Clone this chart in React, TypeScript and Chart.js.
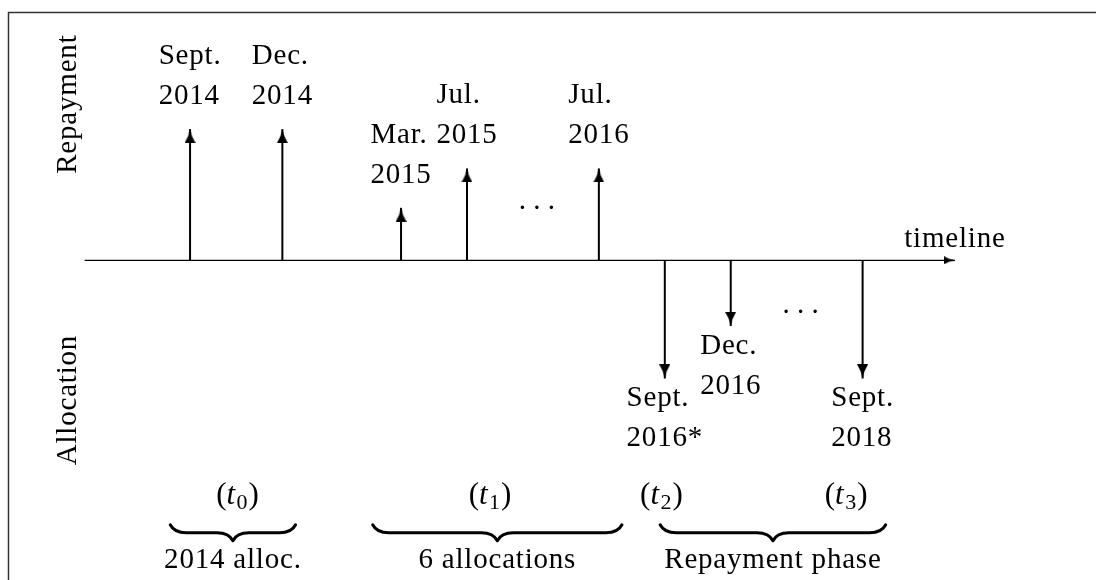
import React, { useEffect, useRef } from "react";
import { Chart, registerables } from "chart.js";

Chart.register(...registerables);

// ---- data (TikZ-like units along the timeline) ----
const upX = [1.6, 3.0, 4.8, 5.8, 7.8];
const upHeight = [2.0, 2.0, 0.8, 1.4, 1.4];
const upLabels = [
  ["Sept.", "2014"],
  ["Dec.", "2014"],
  ["Mar.", "2015"],
  ["Jul.", "2015"],
  ["Jul.", "2016"],
];

const downX = [8.8, 9.8, 11.8];
const downDepth = [-1.8, -1.0, -1.8];
const downLabels = [
  ["Sept.", "2016*"],
  ["Dec.", "2016"],
  ["Sept.", "2018"],
];

const axisRange = [0, 13.2];
const axisTitle = "timeline";

const sideTitles = ["Repayment", "Allocation"];
const sideTitleY = [2.38, -2.13];

const ellipsisX = [6.86, 10.86];
const ellipsisY = [0.81, -0.77];

const periodIndex = ["0", "1", "2", "3"];
const periodX = [2.32, 6.15, 8.75, 11.55];
const periodY = -3.71;

const phaseStart = [1.3, 4.37, 8.73];
const phaseEnd = [3.2, 8.15, 12.15];
const phaseTitles = ["2014 alloc.", "6 allocations", "Repayment phase"];
const braceY = -4.03;

// view window
const X_MIN = -1.2368;
const X_MAX = 15.2941;
const Y_MIN = -4.8265;
const Y_MAX = 3.9216;

const FONT_FAMILY = "'Liberation Serif'";
const FS = 29;
const LINE = 40;

function makeHead(w: number, len: number): HTMLCanvasElement {
  const c = document.createElement("canvas");
  c.width = w;
  c.height = len * 2;
  const g = c.getContext("2d")!;
  g.fillStyle = "#000";
  g.beginPath();
  g.moveTo(w / 2, len);
  g.quadraticCurveTo(w / 2 - w * 0.12, len + len * 0.55, 0, len * 2);
  g.lineTo(w, len * 2);
  g.quadraticCurveTo(w / 2 + w * 0.12, len + len * 0.55, w / 2, len);
  g.closePath();
  g.fill();
  return c;
}

const framePlugin = {
  id: "frame",
  beforeDraw(chart: any) {
    const ctx = chart.ctx;
    ctx.save();
    ctx.fillStyle = "#fff";
    ctx.fillRect(0, 0, chart.width, chart.height);
    ctx.strokeStyle = "#333";
    ctx.lineWidth = 1.5;
    ctx.beginPath();
    ctx.moveTo(8.5, chart.height + 2);
    ctx.lineTo(8.5, 12.5);
    ctx.lineTo(chart.width + 2, 12.5);
    ctx.stroke();
    ctx.restore();
  },
};

const textPlugin = {
  id: "texts",
  afterDatasetsDraw(chart: any) {
    const ctx = chart.ctx;
    const xs = chart.scales.x;
    const ys = chart.scales.y;
    const px = (v: number) => xs.getPixelForValue(v);
    const py = (v: number) => ys.getPixelForValue(v);
    ctx.save();
    ctx.fillStyle = "#000";
    ctx.font = `${FS}px ${FONT_FAMILY}`;
    (ctx as any).letterSpacing = "0.8px";
    ctx.textBaseline = "alphabetic";

    // labels above upward arrows
    upLabels.forEach((lines, i) => {
      const cx = px(upX[i]);
      const tip = py(upHeight[i]);
      const w = Math.max(...lines.map((l) => ctx.measureText(l).width));
      ctx.textAlign = "left";
      lines.forEach((l, j) => {
        ctx.fillText(l, cx - w / 2, tip - 25 - (lines.length - 1 - j) * LINE);
      });
    });

    // labels below downward arrows
    downLabels.forEach((lines, i) => {
      const cx = px(downX[i]);
      const tip = py(downDepth[i]);
      const w = Math.max(...lines.map((l) => ctx.measureText(l).width));
      ctx.textAlign = "left";
      lines.forEach((l, j) => {
        ctx.fillText(l, cx - w / 2, tip + 28 + j * LINE);
      });
    });

    // axis title
    ctx.textAlign = "center";
    ctx.fillText(axisTitle, px(axisRange[1]), py(0) - 13);

    // side titles (rotated)
    sideTitles.forEach((t, i) => {
      ctx.save();
      ctx.translate(px(axisRange[0]) - 9, py(sideTitleY[i]));
      ctx.rotate(-Math.PI / 2);
      ctx.textAlign = "center";
      ctx.fillText(t, 0, 0);
      ctx.restore();
    });

    // ellipses
    (ctx as any).letterSpacing = "0px";
    ellipsisX.forEach((ex, i) => {
      ctx.textAlign = "center";
      ctx.fillText(". . .", px(ex), py(ellipsisY[i]) + 2);
    });

    // period labels (t_i)
    const PFS = 31;
    periodIndex.forEach((sub, i) => {
      const roman = `${PFS}px ${FONT_FAMILY}`;
      const ital = `italic ${PFS}px ${FONT_FAMILY}`;
      const small = `${Math.round(PFS * 0.7)}px ${FONT_FAMILY}`;
      const parts: [string, string, number][] = [
        ["(", roman, 0],
        ["t", ital, 0],
        [sub, small, 5],
        [")", roman, 0],
      ];
      let total = 0;
      const widths = parts.map(([s, f]) => {
        ctx.font = f;
        const w = ctx.measureText(s).width + (s === "t" ? 1.5 : 0) + (s === sub ? 1 : 0);
        total += w;
        return w;
      });
      let x0 = px(periodX[i]) - total / 2;
      const base = py(periodY);
      ctx.textAlign = "left";
      parts.forEach(([s, f, dy], k) => {
        ctx.font = f;
        ctx.fillText(s, x0, base + dy);
        x0 += widths[k];
      });
    });

    // braces and phase titles
    ctx.font = `${FS}px ${FONT_FAMILY}`;
    (ctx as any).letterSpacing = "0.8px";
    const amp = 16;
    phaseStart.forEach((s, i) => {
      const x1 = px(s);
      const x2 = px(phaseEnd[i]);
      const top = py(braceY);
      const mid = (x1 + x2) / 2;
      const a = amp;
      ctx.save();
      ctx.strokeStyle = "#000";
      ctx.lineWidth = 3;
      ctx.lineJoin = "round";
      ctx.lineCap = "round";
      ctx.beginPath();
      ctx.moveTo(x1, top);
      ctx.bezierCurveTo(x1 + 0.15 * a, top + 0.3 * a, x1 + 0.5 * a, top + 0.5 * a, x1 + a, top + 0.5 * a);
      ctx.lineTo(mid - a, top + 0.5 * a);
      ctx.bezierCurveTo(mid - 0.5 * a, top + 0.5 * a, mid - 0.15 * a, top + 0.7 * a, mid, top + a);
      ctx.bezierCurveTo(mid + 0.15 * a, top + 0.7 * a, mid + 0.5 * a, top + 0.5 * a, mid + a, top + 0.5 * a);
      ctx.lineTo(x2 - a, top + 0.5 * a);
      ctx.bezierCurveTo(x2 - 0.5 * a, top + 0.5 * a, x2 - 0.15 * a, top + 0.3 * a, x2, top);
      ctx.stroke();
      ctx.restore();
      ctx.textAlign = "center";
      ctx.fillText(phaseTitles[i], mid, top + a + 27);
    });

    ctx.restore();
  },
};

export default function App() {
  const ref = useRef<HTMLCanvasElement>(null);

  useEffect(() => {
    const canvas = ref.current;
    if (!canvas) return;
    let chart: Chart | null = null;
    let cancelled = false;

    const build = () => {
      if (cancelled) return;
      const bigHead = makeHead(11, 14);
      const axisHead = makeHead(8, 11);

      const stem = (x: number, v: number, rot: number) => ({
        data: [
          { x, y: 0 },
          { x, y: v },
        ],
        showLine: true,
        borderColor: "#000",
        backgroundColor: "#000",
        borderWidth: 2,
        borderCapStyle: "butt",
        pointRadius: [0, 1],
        pointHoverRadius: [0, 1],
        pointHitRadius: 0,
        pointStyle: bigHead,
        pointRotation: rot,
        tension: 0,
        clip: false,
      });

      const datasets: any[] = [
        {
          data: [
            { x: axisRange[0], y: 0 },
            { x: axisRange[1], y: 0 },
          ],
          showLine: true,
          borderColor: "#000",
          backgroundColor: "#000",
          borderWidth: 1.2,
          pointRadius: [0, 1],
          pointHoverRadius: [0, 1],
          pointHitRadius: 0,
          pointStyle: axisHead,
          pointRotation: 90,
          tension: 0,
          clip: false,
        },
        ...upX.map((x, i) => stem(x, upHeight[i], 0)),
        ...downX.map((x, i) => stem(x, downDepth[i], 180)),
      ];

      chart = new Chart(canvas, {
        type: "scatter",
        data: { datasets },
        options: {
          animation: false,
          responsive: false,
          devicePixelRatio: 1,
          events: [],
          layout: { padding: 0 },
          plugins: {
            legend: { display: false },
            tooltip: { enabled: false },
          },
          scales: {
            x: { type: "linear", display: false, min: X_MIN, max: X_MAX, bounds: "data" },
            y: { type: "linear", display: false, min: Y_MIN, max: Y_MAX, bounds: "data" },
          },
        } as any,
        plugins: [framePlugin, textPlugin],
      });
    };

    const fonts: any = (document as any).fonts;
    if (fonts && fonts.load) {
      Promise.all([
        fonts.load(`${FS}px 'Liberation Serif'`),
        fonts.load(`italic ${FS}px 'Liberation Serif'`),
      ])
        .catch(() => null)
        .then(build);
    } else {
      build();
    }
    return () => {
      cancelled = true;
      if (chart) chart.destroy();
    };
  }, []);

  return (
    <div style={{ position: "absolute", left: 0, top: 0, width: 1096, height: 580, background: "#fff" }}>
      <canvas ref={ref} width={1096} height={580} style={{ display: "block", width: 1096, height: 580 }} />
    </div>
  );
}
